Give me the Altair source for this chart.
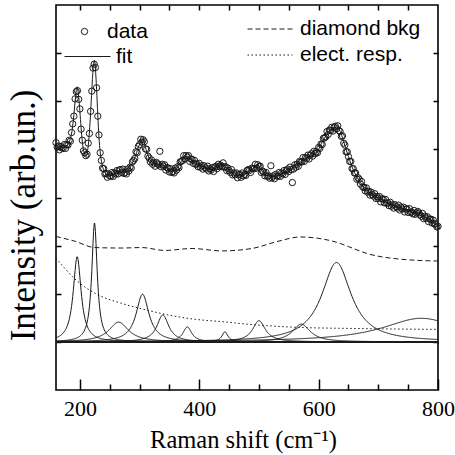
import altair as alt
import pandas as pd
import numpy as np

# ---------------- data ----------------
data_x0 = 160
data_dx = 2
data_y = [
    4.14, 4.05, 4.07, 3.99, 4.06, 4.03, 4.02, 4.10, 4.02, 4.10,
    4.09, 4.19, 4.17, 4.35, 4.53, 4.69, 5.05, 5.20, 5.22, 5.04,
    4.84, 4.42, 4.19, 3.97, 3.93, 3.87, 3.90, 4.13, 4.33, 4.79,
    5.21, 5.69, 5.77, 5.70, 5.28, 4.69, 4.30, 3.93, 3.77, 3.61,
    3.60, 3.49, 3.50, 3.42, 3.49, 3.45, 3.44, 3.52, 3.44, 3.51,
    3.49, 3.56, 3.49, 3.57, 3.58, 3.52, 3.59, 3.50, 3.52, 3.49,
    3.59, 3.55, 3.63, 3.61, 3.74, 3.77, 3.81, 3.95, 3.93, 4.06,
    4.10, 4.21, 4.15, 4.20, 4.16, 4.01, 4.00, 3.86, 3.82, 3.74,
    3.78, 3.69, 3.72, 3.65, 3.73, 3.70, 3.68, 3.96, 3.64, 3.69,
    3.65, 3.68, 3.57, 3.62, 3.61, 3.53, 3.60, 3.52, 3.54, 3.51,
    3.61, 3.57, 3.64, 3.62, 3.74, 3.75, 3.77, 3.87, 3.80, 3.87,
    3.84, 3.87, 3.75, 3.80, 3.79, 3.71, 3.77, 3.69, 3.70, 3.64,
    3.71, 3.63, 3.66, 3.59, 3.66, 3.62, 3.59, 3.65, 3.55, 3.60,
    3.57, 3.62, 3.54, 3.63, 3.65, 3.60, 3.69, 3.64, 3.67, 3.64,
    3.72, 3.63, 3.64, 3.56, 3.61, 3.56, 3.52, 3.58, 3.47, 3.51,
    3.47, 3.51, 3.41, 3.47, 3.48, 3.42, 3.51, 3.45, 3.48, 3.46,
    3.56, 3.58, 3.56, 3.52, 3.61, 3.60, 3.60, 3.69, 3.61, 3.68,
    3.64, 3.65, 3.52, 3.55, 3.53, 3.45, 3.52, 3.44, 3.45, 3.40,
    3.66, 3.41, 3.45, 3.39, 3.48, 3.45, 3.44, 3.52, 3.44, 3.51,
    3.49, 3.56, 3.48, 3.56, 3.59, 3.54, 3.63, 3.58, 3.31, 3.59,
    3.68, 3.63, 3.69, 3.65, 3.75, 3.74, 3.74, 3.83, 3.75, 3.83,
    3.81, 3.88, 3.80, 3.88, 3.91, 3.86, 3.96, 3.91, 3.95, 3.93,
    4.04, 4.02, 4.11, 4.10, 4.23, 4.24, 4.26, 4.37, 4.31, 4.40,
    4.39, 4.46, 4.38, 4.46, 4.48, 4.43, 4.49, 4.39, 4.37, 4.27,
    4.28, 4.13, 4.09, 3.95, 3.95, 3.85, 3.75, 3.75, 3.60, 3.60,
    3.51, 3.51, 3.38, 3.41, 3.38, 3.28, 3.33, 3.22, 3.21, 3.14,
    3.20, 3.11, 3.13, 3.05, 3.11, 3.06, 3.03, 3.08, 2.98, 3.02,
    2.98, 3.02, 2.91, 2.97, 2.97, 2.89, 2.96, 2.88, 2.89, 2.83,
    2.90, 2.82, 2.85, 2.78, 2.85, 2.81, 2.78, 2.84, 2.74, 2.80,
    2.76, 2.80, 2.70, 2.76, 2.76, 2.69, 2.77, 2.69, 2.70, 2.66,
    2.73, 2.65, 2.68, 2.71, 2.68, 2.64, 2.61, 2.67, 2.56, 2.61,
    2.57, 2.60, 2.50, 2.55, 2.55, 2.47, 2.53, 2.45, 2.45, 2.39,
    2.40,
]

fit_x = [160, 165, 170, 175, 180, 184, 187, 190, 192, 194, 195.5, 197, 199, 201, 203, 205,
         208, 211, 213, 215, 217, 219, 221, 223, 224.5, 226, 228, 230, 232, 234, 237, 240,
         245, 250, 255, 260, 265, 270, 275, 280, 285, 290, 295, 300, 304, 308, 312, 316,
         320, 325, 330, 335, 340, 345, 350, 355, 360, 365, 370, 375, 379, 383, 388, 395,
         400, 410, 420, 425, 430, 435, 440, 445, 450, 455, 460, 465, 470, 475, 480, 485,
         490, 495, 499, 503, 507, 512, 520, 530, 540, 550, 560, 570, 580, 590, 600, 605,
         610, 615, 620, 625, 630, 635, 640, 645, 650, 655, 660, 665, 670, 680, 690, 700,
         710, 720, 730, 740, 750, 760, 770, 780, 790, 800]
fit_y = [4.10, 4.05, 4.03, 4.05, 4.10, 4.22, 4.40, 4.72, 5.00, 5.22, 5.30, 5.20, 4.95, 4.62, 4.30, 4.07,
         3.90, 3.88, 3.98, 4.20, 4.55, 5.00, 5.45, 5.78, 5.85, 5.68, 5.25, 4.72, 4.25, 3.95, 3.70, 3.56,
         3.48, 3.45, 3.47, 3.50, 3.55, 3.55, 3.52, 3.55, 3.64, 3.77, 3.93, 4.11, 4.20, 4.13, 3.95, 3.82,
         3.74, 3.70, 3.70, 3.69, 3.66, 3.61, 3.56, 3.54, 3.57, 3.64, 3.75, 3.84, 3.85, 3.81, 3.76, 3.70,
         3.67, 3.62, 3.58, 3.60, 3.63, 3.66, 3.68, 3.62, 3.56, 3.52, 3.48, 3.45, 3.45, 3.48, 3.52, 3.56,
         3.60, 3.65, 3.66, 3.60, 3.52, 3.47, 3.44, 3.45, 3.50, 3.57, 3.64, 3.74, 3.82, 3.89, 4.00, 4.13,
         4.24, 4.34, 4.40, 4.44, 4.46, 4.40, 4.24, 4.04, 3.85, 3.67, 3.52, 3.41, 3.31, 3.16, 3.06, 2.99,
         2.92, 2.86, 2.81, 2.77, 2.72, 2.69, 2.64, 2.58, 2.50, 2.41]

dia_x = [160, 192, 225, 270, 304, 342, 388, 438, 488, 532, 569, 600, 630, 650, 680, 736, 800]
dia_y = [2.19, 2.09, 1.96, 1.95, 1.96, 1.90, 1.94, 1.89, 1.94, 2.09, 2.18, 2.15, 2.07, 1.98, 1.84, 1.72, 1.68]

el_x = [160, 195, 230, 270, 309, 348, 393, 438, 488, 569, 650, 800]
el_y = [1.74, 1.27, 0.98, 0.80, 0.67, 0.56, 0.47, 0.42, 0.36, 0.30, 0.28, 0.26]

peak_center = [195.5, 224.5, 265, 305, 339, 380, 443, 500, 571, 630, 772]
peak_height = [1.77, 2.47, 0.41, 0.99, 0.56, 0.31, 0.21, 0.44, 0.37, 1.65, 0.49]
peak_hwhm = [8, 5.5, 20, 13, 12, 9, 6, 13, 18, 30, 80]

x_major = [200, 400, 600, 800]
x_minor = [250, 300, 350, 450, 500, 550, 650, 700, 750]
x_top = [200, 250, 300, 350, 400, 450, 500, 550, 600, 650, 700, 750]
y_ticks = [0, 1, 2, 3, 4, 5, 6]

# ---------------- tables ----------------
pts = pd.DataFrame({"x": [data_x0 + data_dx * i for i in range(len(data_y))],
                    "y": data_y, "kind": "data"})
fit = pd.DataFrame({"x": fit_x, "y": fit_y, "kind": "fit"})
dia = pd.DataFrame({"x": dia_x, "y": dia_y, "kind": "diamond bkg"})
ele = pd.DataFrame({"x": el_x, "y": el_y, "kind": "elect. resp."})
rows = []
for k, (c, h, w) in enumerate(zip(peak_center, peak_height, peak_hwhm)):
    xs = np.unique(np.append(np.arange(160, 800.5, 1.0), c))
    ys = h * w ** 2 / ((xs - c) ** 2 + w ** 2)
    rows.append(pd.DataFrame({"x": xs, "y": ys, "peak": k}))
peaks = pd.concat(rows)
base = pd.DataFrame({"v": [0]})

W, H = 382, 385
INK = "#1a1a1a"
SERIF = "Liberation Serif, Times New Roman, serif"
SANS = "Liberation Sans, Arial, sans-serif"
xs_ = alt.Scale(domain=[160, 800], nice=False, zero=False)
ys_ = alt.Scale(domain=[-1, 7], nice=False, zero=False)

tick_common = dict(labels=False, domain=False, grid=False, title=None,
                   tickColor="black", tickWidth=1.5)

ax_x_labels = alt.Axis(orient="bottom", values=x_major, ticks=False, domain=False, grid=False,
                       labelFont=SERIF, labelFontSize=22, labelColor="black",
                       labelPadding=8, labelFlush=False, format="d",
                       title="Raman shift (cm⁻¹)", titleFont=SERIF,
                       titleFontSize=24.5, titleFontWeight="normal", titleColor="black",
                       titleBaseline="alphabetic", titleAlign="center", titleX=187, titleY=57)
ax_y_title = alt.Axis(orient="left", labels=False, ticks=False, domain=False, grid=False,
                      title="Intensity (arb.un.)", titleFont=SERIF,
                      titleFontSize=35, titleFontWeight="normal", titleColor="black",
                      titleAngle=270, titleBaseline="alphabetic", titleAlign="center",
                      titleX=-22, titleY=210)
ax_x_bot_major = alt.Axis(orient="top", offset=-H, values=x_major, tickSize=11, **tick_common)
ax_x_bot_minor = alt.Axis(orient="top", offset=-H, values=x_minor, tickSize=6, **tick_common)
ax_x_top = alt.Axis(orient="bottom", offset=-H, values=x_top, tickSize=5, **tick_common)
ax_y_left = alt.Axis(orient="right", offset=-W, values=y_ticks, tickSize=5, **tick_common)
ax_y_right = alt.Axis(orient="left", offset=-W, values=y_ticks, tickSize=5, **tick_common)

leg_common = dict(orient="none", title=None, labelFont=SANS, labelFontSize=21,
                  labelColor="black", padding=0, symbolStrokeWidth=1)

peak_layer = alt.Chart(peaks).mark_line(color=INK, strokeWidth=1).encode(
    x=alt.X("x:Q", scale=xs_, axis=ax_x_top),
    y=alt.Y("y:Q", scale=ys_, axis=ax_y_right),
    detail="peak:N",
)
base_layer = alt.Chart(base).mark_rule(color=INK, strokeWidth=2).encode(
    y=alt.Y("v:Q", scale=ys_, axis=None),
)
dia_layer = alt.Chart(dia).mark_line(color=INK, strokeWidth=1, interpolate="monotone").encode(
    x=alt.X("x:Q", scale=xs_, axis=ax_x_bot_minor),
    y=alt.Y("y:Q", scale=ys_, axis=None),
    strokeDash=alt.StrokeDash("kind:N",
        scale=alt.Scale(domain=["diamond bkg"], range=[[5, 3]]),
        legend=alt.Legend(legendX=191, legendY=1, symbolType="stroke", symbolSize=2025,
                          symbolStrokeColor=INK, labelOffset=7, **leg_common)),
)
ele_layer = alt.Chart(ele).mark_line(color=INK, strokeWidth=1, interpolate="monotone").encode(
    x=alt.X("x:Q", scale=xs_, axis=None),
    y=alt.Y("y:Q", scale=ys_, axis=None),
    strokeDash=alt.StrokeDash("kind:N",
        scale=alt.Scale(domain=["elect. resp."], range=[[1.5, 2.5]]),
        legend=alt.Legend(legendX=191, legendY=27, symbolType="stroke", symbolSize=2025,
                          symbolStrokeColor=INK, labelOffset=7, **leg_common)),
)
fit_layer = alt.Chart(fit).mark_line(strokeWidth=1, interpolate="monotone").encode(
    x=alt.X("x:Q", scale=xs_, axis=ax_x_bot_major),
    y=alt.Y("y:Q", scale=ys_, axis=ax_y_left),
    color=alt.Color("kind:N", scale=alt.Scale(domain=["fit"], range=[INK]),
        legend=alt.Legend(legendX=8, legendY=28, symbolType="stroke", symbolSize=2116,
                          labelOffset=5, **leg_common)),
)
pt_layer = alt.Chart(pts).mark_point(filled=False, size=40, strokeWidth=1, color=INK,
                                     opacity=1).encode(
    x=alt.X("x:Q", scale=xs_, axis=ax_x_labels),
    y=alt.Y("y:Q", scale=ys_, axis=ax_y_title),
    shape=alt.Shape("kind:N", scale=alt.Scale(domain=["data"], range=["circle"]),
        legend=alt.Legend(legendX=18, legendY=16, symbolSize=40, symbolStrokeColor=INK,
                          symbolFillColor="transparent", labelOffset=12, **leg_common)),
)

chart = alt.layer(peak_layer, base_layer, dia_layer, ele_layer, fit_layer, pt_layer).resolve_axis(
    x="independent", y="independent"
).resolve_scale(strokeDash="independent").properties(
    width=W, height=H,
    autosize=alt.AutoSizeParams(type="none"),
    padding={"left": 56, "top": 5, "right": 17, "bottom": 65},
    background="white",
).configure_view(stroke="black", strokeWidth=1.6)

chart.save("out.html", embed_options={"renderer": "svg", "actions": False})
